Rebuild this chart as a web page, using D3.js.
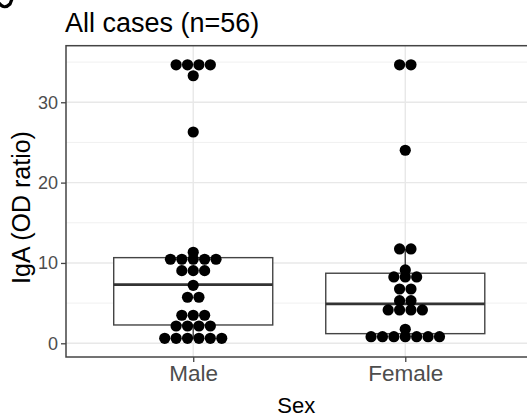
<!DOCTYPE html>
<html><head><meta charset="utf-8">
<script src="https://cdn.jsdelivr.net/npm/d3@7"></script>
<style>
html,body{margin:0;padding:0;background:#fff;overflow:hidden;}
svg{display:block;font-family:"Liberation Sans",Arial,sans-serif;}
</style></head>
<body>
<svg id="chart" width="527" height="418"></svg>
<script>
// ---- data ----
const categories = ["Male", "Female"];
// dot values (dots sharing a bin share a value)
const maleValues = [
  0.62,0.62,0.62,0.62,0.62,0.62,
  2.15,2.15,2.15,2.15,
  3.49,3.49,3.49,
  5.73,5.73,
  7.22,
  9.04,9.04,9.04,
  10.46,10.46,10.46,10.46,10.46,
  11.33,
  26.3,
  33.3,
  34.66,34.66,34.66,34.66
];
const femaleValues = [
  0.82,0.82,0.82,0.82,0.82,0.82,0.82,
  1.74,
  4.15,4.15,4.15,4.15,
  5.3,5.3,
  6.76,6.76,
  8.26,8.26,8.26,
  9.13,
  11.74,11.74,
  24.03,
  34.66,34.66
];
const boxQ1 = [2.28, 1.2];
const boxMedian = [7.3, 4.9];
const boxQ3 = [10.66, 8.72];
const whiskerLow = [0.62, 0.82];
const whiskerHigh = [11.33, 11.74];
const yTicks = [0, 10, 20, 30];
const yMinorTicks = [5, 15, 25, 35];
const titleText = "All cases (n=56)";
const xTitle = "Sex";
const yTitle = "IgA (OD ratio)";

// ---- layout ----
const panel = {left: 66, top: 45.7, right: 532.5, bottom: 357};
const svg = d3.select("#chart");

const x = d3.scalePoint().domain(categories).range([panel.left, panel.right]).padding(0.6);
const y = d3.scaleLinear().domain([-1.706, 37.04]).range([panel.bottom, panel.top]);
const step = x.step();

// panel background & grid
const g = svg.append("g");
g.append("rect").attr("x", panel.left).attr("y", panel.top)
  .attr("width", panel.right - panel.left).attr("height", panel.bottom - panel.top).attr("fill", "#fff");
g.selectAll(".gminor").data(yMinorTicks).join("line")
  .attr("x1", panel.left).attr("x2", panel.right)
  .attr("y1", d => y(d)).attr("y2", d => y(d))
  .attr("stroke", "#f0f0f0").attr("stroke-width", 1);
g.selectAll(".gmajor").data(yTicks).join("line")
  .attr("x1", panel.left).attr("x2", panel.right)
  .attr("y1", d => y(d)).attr("y2", d => y(d))
  .attr("stroke", "#e8e8e8").attr("stroke-width", 1.4);
g.selectAll(".gx").data(categories).join("line")
  .attr("x1", d => x(d)).attr("x2", d => x(d))
  .attr("y1", panel.top).attr("y2", panel.bottom)
  .attr("stroke", "#e8e8e8").attr("stroke-width", 1.4);

// boxplots
const boxW = 0.75 * step;
const boxG = svg.append("g");
categories.forEach((c, i) => {
  const cx = x(c);
  boxG.append("line").attr("x1", cx).attr("x2", cx)
    .attr("y1", y(boxQ3[i])).attr("y2", y(whiskerHigh[i]))
    .attr("stroke", "#444").attr("stroke-width", 1.4);
  boxG.append("line").attr("x1", cx).attr("x2", cx)
    .attr("y1", y(boxQ1[i])).attr("y2", y(whiskerLow[i]))
    .attr("stroke", "#444").attr("stroke-width", 1.4);
  boxG.append("rect").attr("x", cx - boxW / 2).attr("width", boxW)
    .attr("y", y(boxQ3[i])).attr("height", y(boxQ1[i]) - y(boxQ3[i]))
    .attr("fill", "#fff").attr("stroke", "#444").attr("stroke-width", 1.4);
  boxG.append("line").attr("x1", cx - boxW / 2).attr("x2", cx + boxW / 2)
    .attr("y1", y(boxMedian[i])).attr("y2", y(boxMedian[i]))
    .attr("stroke", "#333").attr("stroke-width", 2.8);
});

// dots (centered stacks)
const dotSpacing = 11.4, dotR = 5.6;
const groups = [maleValues, femaleValues];
const dotG = svg.append("g");
categories.forEach((c, i) => {
  const bins = d3.groups(groups[i], v => v);
  bins.forEach(([v, arr]) => {
    const n = arr.length;
    arr.forEach((_, k) => {
      dotG.append("circle")
        .attr("cx", x(c) + (k - (n - 1) / 2) * dotSpacing)
        .attr("cy", y(v)).attr("r", dotR).attr("fill", "#000");
    });
  });
});

// panel border
svg.append("rect").attr("x", panel.left).attr("y", panel.top)
  .attr("width", panel.right - panel.left).attr("height", panel.bottom - panel.top)
  .attr("fill", "none").attr("stroke", "#444").attr("stroke-width", 1.5);

// axes
const yAxis = svg.append("g").attr("transform", `translate(${panel.left},0)`)
  .call(d3.axisLeft(y).tickValues(yTicks).tickSize(5).tickPadding(3));
yAxis.select(".domain").remove();
yAxis.selectAll("line").attr("stroke", "#444").attr("stroke-width", 1.3);
yAxis.selectAll("text").attr("fill", "#4d4d4d").style("font-size", "18px")
  .style("font-family", "Liberation Sans, Arial, sans-serif");

const xAxis = svg.append("g").attr("transform", `translate(0,${panel.bottom})`)
  .call(d3.axisBottom(x).tickSize(5).tickPadding(3));
xAxis.select(".domain").remove();
xAxis.selectAll("line").attr("stroke", "#444").attr("stroke-width", 1.3);
xAxis.selectAll("text").attr("fill", "#4d4d4d").style("font-size", "22.5px")
  .style("font-family", "Liberation Sans, Arial, sans-serif");

// titles
svg.append("text").attr("x", 65).attr("y", 32.3).text(titleText)
  .style("font-size", "27px").attr("fill", "#000");
svg.append("text").attr("x", (panel.left + 532.5) / 2 - 3).attr("y", 413)
  .attr("text-anchor", "middle").text(xTitle).style("font-size", "22px").attr("fill", "#000");
svg.append("text").attr("transform", "translate(29.5,207.5) rotate(-90)")
  .attr("text-anchor", "middle").text(yTitle).style("font-size", "25px").attr("fill", "#000");
// clipped fragment of a panel tag at the top-left corner (graphic remnant)
svg.append("path").attr("d", "M-1,3 Q4,10 10,4 L12,-1")
  .attr("fill", "none").attr("stroke", "#000").attr("stroke-width", 3.2);
</script>
</body></html>
